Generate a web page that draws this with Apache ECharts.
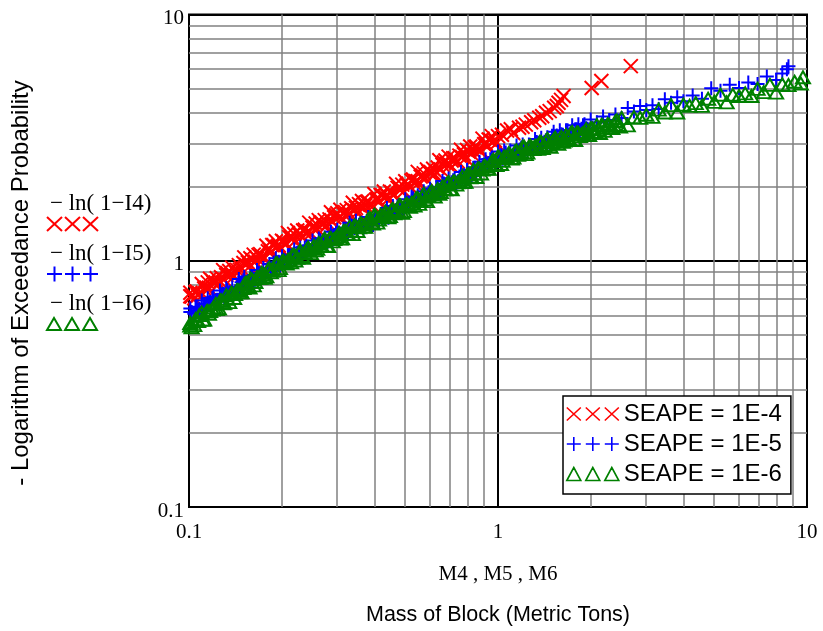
<!DOCTYPE html>
<html>
<head>
<meta charset="utf-8">
<script src="https://cdn.jsdelivr.net/npm/echarts@6/dist/echarts.min.js"></script>
<style>
  html, body { margin: 0; padding: 0; background: #ffffff; }
  #chart { width: 823px; height: 631px; }
</style>
</head>
<body>
<div id="chart"></div>
<script>
// Block mass (metric tons) and -ln(1 - I) for the three SEAPE levels
const massM4 = [
  0.101, 0.102, 0.105, 0.107, 0.110, 0.112, 0.115, 0.117, 0.120, 0.123,
  0.126, 0.129, 0.132, 0.135, 0.138, 0.141, 0.145, 0.148, 0.151, 0.155,
  0.158, 0.162, 0.166, 0.170, 0.174, 0.178, 0.182, 0.186, 0.191, 0.195,
  0.200, 0.204, 0.209, 0.214, 0.219, 0.224, 0.229, 0.234, 0.240, 0.245,
  0.251, 0.257, 0.263, 0.269, 0.275, 0.282, 0.288, 0.295, 0.302, 0.309,
  0.316, 0.324, 0.331, 0.339, 0.347, 0.355, 0.363, 0.372, 0.380, 0.389,
  0.398, 0.407, 0.417, 0.427, 0.437, 0.447, 0.457, 0.468, 0.479, 0.490,
  0.501, 0.513, 0.525, 0.537, 0.550, 0.562, 0.575, 0.589, 0.603, 0.617,
  0.631, 0.646, 0.661, 0.676, 0.692, 0.708, 0.724, 0.741, 0.759, 0.776,
  0.794, 0.813, 0.832, 0.851, 0.871, 0.891, 0.912, 0.933, 0.955, 0.977, 1.000,
  0.101, 0.104, 0.106, 0.108, 0.111, 0.114, 0.116, 0.119, 0.122, 0.125,
  0.127, 0.130, 0.133, 0.137, 0.140, 0.143, 0.146, 0.150, 0.153, 0.157,
  0.160, 0.164, 0.168, 0.172, 0.176, 0.180, 0.184, 0.188, 0.193, 0.197,
  0.202, 0.207, 0.211, 0.216, 0.221, 0.227, 0.232, 0.237, 0.243, 0.248,
  0.254, 0.260, 0.266, 0.272, 0.279, 0.285, 0.292, 0.299, 0.306, 0.313,
  0.320, 0.327, 0.335, 0.343, 0.351, 0.359, 0.367, 0.376, 0.385, 0.394,
  0.403, 0.412, 0.422, 0.432, 0.442, 0.452, 0.462, 0.473, 0.484, 0.496,
  0.507, 0.519, 0.531, 0.543, 0.556, 0.569, 0.582, 0.596, 0.610, 0.624,
  0.638, 0.653, 0.668, 0.684, 0.700, 0.716, 0.733, 0.750, 0.767, 0.785,
  0.804, 0.822, 0.841, 0.861, 0.881, 0.902, 0.923, 0.944, 0.966, 0.989,
  1.03, 1.07, 1.10, 1.12, 1.17, 1.20, 1.23, 1.28, 1.31, 1.36, 1.39, 1.43, 1.47,
  1.52, 1.55, 1.57, 1.60, 1.63, 2.01, 2.16, 2.69];
const excM4 = [
  0.741, 0.715, 0.745, 0.723, 0.805, 0.771, 0.817, 0.845, 0.815, 0.849,
  0.824, 0.916, 0.875, 0.908, 0.938, 0.902, 0.960, 0.929, 1.032, 0.986,
  1.023, 1.059, 1.021, 1.064, 1.032, 1.151, 1.114, 1.158, 1.200, 1.156,
  1.205, 1.166, 1.297, 1.239, 1.285, 1.327, 1.276, 1.327, 1.285, 1.428,
  1.364, 1.416, 1.462, 1.406, 1.462, 1.416, 1.574, 1.503, 1.560, 1.610,
  1.548, 1.606, 1.553, 1.721, 1.640, 1.698, 1.749, 1.679, 1.742, 1.683,
  1.866, 1.782, 1.849, 1.910, 1.836, 1.910, 1.849, 2.056, 1.963, 2.037,
  2.103, 2.030, 2.118, 2.059, 2.296, 2.200, 2.264, 2.347, 2.264, 2.363,
  2.296, 2.561, 2.454, 2.554, 2.648, 2.554, 2.606, 2.532, 2.825, 2.707,
  2.818, 2.911, 2.799, 2.911, 2.818, 3.133, 2.992, 3.105, 3.206, 3.083, 3.206,
  0.717, 0.704, 0.751, 0.739, 0.730, 0.777, 0.777, 0.829, 0.816, 0.806,
  0.857, 0.839, 0.893, 0.877, 0.865, 0.918, 0.920, 0.979, 0.962, 0.948,
  1.008, 0.990, 1.056, 1.039, 1.027, 1.093, 1.085, 1.157, 1.139, 1.126,
  1.197, 1.172, 1.247, 1.225, 1.208, 1.282, 1.256, 1.337, 1.312, 1.294,
  1.374, 1.346, 1.432, 1.406, 1.387, 1.472, 1.442, 1.535, 1.507, 1.486,
  1.576, 1.540, 1.635, 1.602, 1.576, 1.669, 1.632, 1.732, 1.697, 1.669,
  1.770, 1.734, 1.845, 1.811, 1.786, 1.897, 1.858, 1.977, 1.941, 1.914,
  2.037, 2.000, 2.138, 2.104, 2.084, 2.218, 2.158, 2.301, 2.270, 2.244,
  2.393, 2.350, 2.512, 2.472, 2.449, 2.606, 2.506, 2.673, 2.636, 2.606,
  2.773, 2.716, 2.891, 2.838, 2.799, 2.972, 2.911, 3.097, 3.041, 2.999,
  3.25, 3.38, 3.42, 3.30, 3.47, 3.50, 3.57, 3.65, 3.72, 3.81, 3.86, 3.99, 4.05,
  4.18, 4.25, 4.38, 4.50, 4.67, 5.03, 5.37, 6.17];

const massM5 = [
  0.101, 0.102, 0.105, 0.107, 0.110, 0.112, 0.115, 0.117, 0.120, 0.123,
  0.126, 0.129, 0.132, 0.135, 0.138, 0.141, 0.145, 0.148, 0.151, 0.155,
  0.158, 0.162, 0.166, 0.170, 0.174, 0.178, 0.182, 0.186, 0.191, 0.195,
  0.200, 0.204, 0.209, 0.214, 0.219, 0.224, 0.229, 0.234, 0.240, 0.245,
  0.251, 0.257, 0.263, 0.269, 0.275, 0.282, 0.288, 0.295, 0.302, 0.309,
  0.316, 0.324, 0.331, 0.339, 0.347, 0.355, 0.363, 0.372, 0.380, 0.389,
  0.398, 0.407, 0.417, 0.427, 0.437, 0.447, 0.457, 0.468, 0.479, 0.490,
  0.501, 0.513, 0.525, 0.537, 0.550, 0.562, 0.575, 0.589, 0.603, 0.617,
  0.631, 0.646, 0.661, 0.676, 0.692, 0.708, 0.724, 0.741, 0.759, 0.776,
  0.794, 0.813, 0.832, 0.851, 0.871, 0.891, 0.912, 0.933, 0.955, 0.977, 1.000,
  1.023, 1.047, 1.072, 1.096, 1.122, 1.148, 1.175, 1.202, 1.230, 1.259,
  1.288, 1.318, 1.349, 1.380, 1.413, 1.445, 1.479, 1.514, 1.549, 1.585,
  1.622, 1.660, 1.698, 1.738, 1.778, 1.820, 1.862, 1.905, 1.950, 1.995,
  0.101, 0.104, 0.106, 0.108, 0.111, 0.114, 0.116, 0.119, 0.122, 0.125,
  0.127, 0.130, 0.133, 0.137, 0.140, 0.143, 0.146, 0.150, 0.153, 0.157,
  0.160, 0.164, 0.168, 0.172, 0.176, 0.180, 0.184, 0.188, 0.193, 0.197,
  0.202, 0.207, 0.211, 0.216, 0.221, 0.227, 0.232, 0.237, 0.243, 0.248,
  0.254, 0.260, 0.266, 0.272, 0.279, 0.285, 0.292, 0.299, 0.306, 0.313,
  0.320, 0.327, 0.335, 0.343, 0.351, 0.359, 0.367, 0.376, 0.385, 0.394,
  0.403, 0.412, 0.422, 0.432, 0.442, 0.452, 0.462, 0.473, 0.484, 0.496,
  0.507, 0.519, 0.531, 0.543, 0.556, 0.569, 0.582, 0.596, 0.610, 0.624,
  0.638, 0.653, 0.668, 0.684, 0.700, 0.716, 0.733, 0.750, 0.767, 0.785,
  0.804, 0.822, 0.841, 0.861, 0.881, 0.902, 0.923, 0.944, 0.966, 0.989,
  1.012, 1.035, 1.059, 1.084, 1.109, 1.135, 1.161, 1.189, 1.216, 1.245,
  1.274, 1.303, 1.334, 1.365, 1.396, 1.429, 1.462, 1.496, 1.531, 1.567,
  1.603, 1.641, 1.679, 1.718, 1.758, 1.799, 1.841, 1.884, 1.928, 1.972,
  2.089, 2.188, 2.291, 2.399, 2.512, 2.630, 2.754, 2.884, 3.020, 3.162,
  3.311, 3.467, 3.631, 3.802, 3.981, 4.266, 4.571, 4.898, 5.248, 5.623,
  6.026, 6.457, 6.918, 7.413, 7.943, 8.318, 8.610, 8.710];
const excM5 = [
  0.640, 0.619, 0.649, 0.627, 0.689, 0.668, 0.705, 0.680, 0.715, 0.691,
  0.758, 0.734, 0.773, 0.745, 0.780, 0.751, 0.844, 0.817, 0.859, 0.828,
  0.868, 0.836, 0.917, 0.887, 0.934, 0.900, 0.969, 0.934, 1.023, 0.991,
  1.042, 1.005, 1.052, 1.015, 1.112, 1.077, 1.133, 1.092, 1.144, 1.102,
  1.208, 1.169, 1.230, 1.187, 1.242, 1.197, 1.312, 1.271, 1.337, 1.289,
  1.350, 1.301, 1.427, 1.381, 1.452, 1.400, 1.426, 1.374, 1.507, 1.459,
  1.535, 1.480, 1.550, 1.494, 1.638, 1.586, 1.668, 1.608, 1.684, 1.622,
  1.779, 1.726, 1.821, 1.758, 1.846, 1.783, 1.914, 1.858, 1.959, 1.892,
  1.986, 1.918, 2.109, 2.046, 2.158, 2.085, 2.158, 2.084, 2.291, 2.223,
  2.344, 2.265, 2.377, 2.296, 2.523, 2.449, 2.582, 2.495, 2.618, 2.529, 2.780,
  2.679, 2.805, 2.692, 2.805, 2.692, 2.938, 2.831, 2.965, 2.844, 2.965,
  2.851, 3.119, 3.013, 3.162, 3.041, 3.177, 3.055, 3.342, 3.228, 3.388,
  3.251, 3.388, 3.251, 3.548, 3.420, 3.581, 3.436, 3.581, 3.436, 3.750,
  0.619, 0.609, 0.651, 0.637, 0.630, 0.671, 0.660, 0.706, 0.691, 0.683,
  0.726, 0.713, 0.760, 0.743, 0.733, 0.778, 0.782, 0.834, 0.815, 0.804,
  0.853, 0.838, 0.893, 0.873, 0.861, 0.914, 0.923, 0.984, 0.962, 0.948,
  1.007, 0.989, 1.054, 1.030, 1.016, 1.079, 1.059, 1.130, 1.104, 1.089,
  1.156, 1.135, 1.211, 1.183, 1.167, 1.239, 1.216, 1.297, 1.268, 1.250,
  1.327, 1.303, 1.390, 1.358, 1.340, 1.422, 1.358, 1.449, 1.416, 1.396,
  1.483, 1.455, 1.552, 1.517, 1.496, 1.589, 1.560, 1.663, 1.626, 1.603,
  1.704, 1.677, 1.793, 1.756, 1.736, 1.848, 1.776, 1.899, 1.860, 1.839,
  1.957, 1.925, 2.059, 2.016, 1.993, 2.121, 2.059, 2.200, 2.156, 2.131,
  2.268, 2.232, 2.386, 2.337, 2.310, 2.458, 2.418, 2.585, 2.533, 2.503,
  2.655, 2.594, 2.754, 2.679, 2.630, 2.780, 2.716, 2.884, 2.805, 2.754,
  2.914, 2.855, 3.038, 2.962, 2.914, 3.087, 3.024, 3.217, 3.137, 3.087,
  3.266, 3.192, 3.388, 3.296, 3.236, 3.420, 3.342, 3.548, 3.451, 3.388,
  3.648, 3.855, 3.733, 3.926, 3.802, 4.169, 4.036, 4.246, 4.093, 4.285,
  4.130, 4.529, 4.385, 4.613, 4.446, 4.688, 4.550, 5.023, 4.898, 5.188,
  5.035, 5.297, 5.224, 5.598, 5.420, 5.754, 5.998, 6.166];

const massM6 = [
  0.101, 0.102, 0.105, 0.107, 0.110, 0.112, 0.115, 0.117, 0.120, 0.123,
  0.126, 0.129, 0.132, 0.135, 0.138, 0.141, 0.145, 0.148, 0.151, 0.155,
  0.158, 0.162, 0.166, 0.170, 0.174, 0.178, 0.182, 0.186, 0.191, 0.195,
  0.200, 0.204, 0.209, 0.214, 0.219, 0.224, 0.229, 0.234, 0.240, 0.245,
  0.251, 0.257, 0.263, 0.269, 0.275, 0.282, 0.288, 0.295, 0.302, 0.309,
  0.316, 0.324, 0.331, 0.339, 0.347, 0.355, 0.363, 0.372, 0.380, 0.389,
  0.398, 0.407, 0.417, 0.427, 0.437, 0.447, 0.457, 0.468, 0.479, 0.490,
  0.501, 0.513, 0.525, 0.537, 0.550, 0.562, 0.575, 0.589, 0.603, 0.617,
  0.631, 0.646, 0.661, 0.676, 0.692, 0.708, 0.724, 0.741, 0.759, 0.776,
  0.794, 0.813, 0.832, 0.851, 0.871, 0.891, 0.912, 0.933, 0.955, 0.977, 1.000,
  1.023, 1.047, 1.072, 1.096, 1.122, 1.148, 1.175, 1.202, 1.230, 1.259,
  1.288, 1.318, 1.349, 1.380, 1.413, 1.445, 1.479, 1.514, 1.549, 1.585,
  1.622, 1.660, 1.698, 1.738, 1.778, 1.820, 1.862, 1.905, 1.950, 1.995,
  2.042, 2.089, 2.138, 2.188, 2.239, 2.291, 2.344, 2.399, 2.455, 2.512,
  0.101, 0.104, 0.106, 0.108, 0.111, 0.114, 0.116, 0.119, 0.122, 0.125,
  0.127, 0.130, 0.133, 0.137, 0.140, 0.143, 0.146, 0.150, 0.153, 0.157,
  0.160, 0.164, 0.168, 0.172, 0.176, 0.180, 0.184, 0.188, 0.193, 0.197,
  0.202, 0.207, 0.211, 0.216, 0.221, 0.227, 0.232, 0.237, 0.243, 0.248,
  0.254, 0.260, 0.266, 0.272, 0.279, 0.285, 0.292, 0.299, 0.306, 0.313,
  0.320, 0.327, 0.335, 0.343, 0.351, 0.359, 0.367, 0.376, 0.385, 0.394,
  0.403, 0.412, 0.422, 0.432, 0.442, 0.452, 0.462, 0.473, 0.484, 0.496,
  0.507, 0.519, 0.531, 0.543, 0.556, 0.569, 0.582, 0.596, 0.610, 0.624,
  0.638, 0.653, 0.668, 0.684, 0.700, 0.716, 0.733, 0.750, 0.767, 0.785,
  0.804, 0.822, 0.841, 0.861, 0.881, 0.902, 0.923, 0.944, 0.966, 0.989,
  1.012, 1.035, 1.059, 1.084, 1.109, 1.135, 1.161, 1.189, 1.216, 1.245,
  1.274, 1.303, 1.334, 1.365, 1.396, 1.429, 1.462, 1.496, 1.531, 1.567,
  1.603, 1.641, 1.679, 1.718, 1.758, 1.799, 1.841, 1.884, 1.928, 1.972,
  2.018, 2.065, 2.113, 2.163, 2.213, 2.265, 2.317, 2.371, 2.427, 2.483,
  2.630, 2.754, 2.884, 3.020, 3.162, 3.311, 3.467, 3.631, 3.802, 3.981,
  4.169, 4.365, 4.571, 4.786, 5.012, 5.248, 5.495, 5.754, 6.026, 6.310,
  6.607, 6.918, 7.244, 7.586, 7.943, 8.318, 8.710, 9.120, 9.550, 9.705];
const excM6 = [
  0.546, 0.537, 0.579, 0.569, 0.614, 0.577, 0.625, 0.624, 0.647, 0.637,
  0.687, 0.671, 0.724, 0.679, 0.736, 0.733, 0.759, 0.745, 0.804, 0.785,
  0.847, 0.794, 0.859, 0.853, 0.881, 0.865, 0.931, 0.910, 0.977, 0.916,
  0.991, 0.982, 1.009, 0.986, 1.057, 1.028, 1.102, 1.028, 1.107, 1.096,
  1.127, 1.102, 1.180, 1.148, 1.230, 1.148, 1.236, 1.225, 1.259, 1.230,
  1.318, 1.282, 1.374, 1.282, 1.380, 1.368, 1.406, 1.374, 1.472, 1.432,
  1.535, 1.429, 1.535, 1.517, 1.556, 1.517, 1.622, 1.574, 1.683, 1.567,
  1.683, 1.667, 1.714, 1.675, 1.795, 1.746, 1.871, 1.746, 1.879, 1.862,
  1.914, 1.871, 2.004, 1.950, 2.089, 1.950, 2.099, 2.080, 2.138, 2.089,
  2.239, 2.183, 2.339, 2.188, 2.360, 2.344, 2.415, 2.360, 2.535, 2.472, 2.655,
  2.472, 2.655, 2.624, 2.692, 2.624, 2.805, 2.723, 2.911, 2.710, 2.911,
  2.868, 2.931, 2.848, 3.034, 2.935, 3.126, 2.901, 3.105, 3.059, 3.126,
  3.038, 3.236, 3.130, 3.334, 3.094, 3.311, 3.263, 3.334, 3.240, 3.451,
  3.338, 3.556, 3.301, 3.532, 3.479, 3.556, 3.455, 3.681, 3.560, 3.793,
  0.559, 0.548, 0.570, 0.602, 0.576, 0.622, 0.609, 0.634, 0.669, 0.640,
  0.690, 0.675, 0.701, 0.739, 0.706, 0.761, 0.745, 0.774, 0.815, 0.779,
  0.839, 0.820, 0.850, 0.893, 0.853, 0.918, 0.897, 0.930, 0.977, 0.933,
  1.002, 0.975, 1.007, 1.054, 1.002, 1.074, 1.045, 1.079, 1.130, 1.074,
  1.151, 1.119, 1.156, 1.211, 1.151, 1.233, 1.199, 1.239, 1.297, 1.233,
  1.321, 1.285, 1.327, 1.390, 1.321, 1.416, 1.377, 1.422, 1.489, 1.416,
  1.515, 1.471, 1.515, 1.583, 1.501, 1.605, 1.557, 1.605, 1.677, 1.590,
  1.702, 1.656, 1.710, 1.791, 1.702, 1.824, 1.774, 1.832, 1.919, 1.824,
  1.954, 1.901, 1.963, 2.056, 1.954, 2.094, 2.037, 2.104, 2.203, 2.094,
  2.247, 2.188, 2.262, 2.375, 2.262, 2.430, 2.366, 2.447, 2.568, 2.447,
  2.621, 2.544, 2.621, 2.738, 2.597, 2.776, 2.695, 2.776, 2.901, 2.751,
  2.936, 2.840, 2.915, 3.035, 2.870, 3.057, 2.957, 3.035, 3.161, 2.987,
  3.183, 3.077, 3.161, 3.290, 3.110, 3.314, 3.205, 3.290, 3.426, 3.238,
  3.450, 3.336, 3.426, 3.566, 3.371, 3.591, 3.474, 3.566, 3.713, 3.510,
  3.548, 3.828, 3.802, 3.917, 3.837, 4.111, 4.000, 4.285, 4.000, 4.305,
  4.256, 4.365, 4.256, 4.550, 4.416, 4.721, 4.395, 4.721, 4.667, 4.786,
  4.667, 4.989, 4.842, 5.176, 4.819, 5.200, 5.164, 5.333, 5.248, 5.559];

const seriesNames = ['SEAPE = 1E-4', 'SEAPE = 1E-5', 'SEAPE = 1E-6'];
const leftLabels = ['\u2212 ln( 1\u2212I4)', '\u2212 ln( 1\u2212I5)', '\u2212 ln( 1\u2212I6)'];
const axisTitleX = 'M4 , M5 , M6';
const axisTitleBottom = 'Mass of Block (Metric Tons)';
const axisTitleY = '- Logarithm of Exceedance Probability';
// Intermediate log-decade grid values (2..9 per decade)
const minorGridValues = [0.2, 0.3, 0.4, 0.5, 0.6, 0.7, 0.8, 0.9, 2, 3, 4, 5, 6, 7, 8, 9];

const RED = '#ff0000', BLUE = '#0000ff', GREEN = '#008000';
const SYM_X = 'path://M0,0L14,14M14,0L0,14';
const SYM_PLUS = 'path://M7,0L7,14M0,7L14,7';
const SYM_TRI = 'path://M0,12L7,0L14,12Z';
const ICON_X3 = 'path://M0,0L14,13M14,0L0,13M19,0L33,13M33,0L19,13M38,0L52,13M52,0L38,13';
const ICON_PLUS3 = 'path://M7,0L7,14M0,7L14,7M26,0L26,14M19,7L33,7M45,0L45,14M38,7L52,7';
const ICON_TRI3 = 'path://M0,13L7,0L14,13ZM19,13L26,0L33,13ZM38,13L45,0L52,13Z';

function pairs(xs, ys) { return xs.map((x, i) => [x, ys[i]]); }

function markerStyle(color, width) {
  return { color: 'rgba(0,0,0,0)', borderColor: color, borderWidth: width, opacity: 1 };
}

const chart = echarts.init(document.getElementById('chart'), null, { renderer: 'canvas' });

const serifFont = '"Liberation Serif", "Times New Roman", serif';
const sansFont = '"Liberation Sans", Arial, sans-serif';

// Left-hand key: label text above three sample markers
const keyTextY = [204, 254, 304];
const keyMarkY = [224, 274, 324];
const keyMarkX = [47, 65, 83];
const leftKey = [];
leftLabels.forEach((t, i) => {
  leftKey.push({
    type: 'text', x: 50, y: keyTextY[i],
    style: { text: t, font: '23px ' + serifFont, fill: '#000', verticalAlign: 'middle', align: 'left' }
  });
  keyMarkX.forEach(x0 => {
    const cy = keyMarkY[i];
    if (i === 0) {
      leftKey.push({ type: 'line', shape: { x1: x0, y1: cy - 7, x2: x0 + 15, y2: cy + 7 }, style: { stroke: RED, lineWidth: 2 } });
      leftKey.push({ type: 'line', shape: { x1: x0 + 15, y1: cy - 7, x2: x0, y2: cy + 7 }, style: { stroke: RED, lineWidth: 2 } });
    } else if (i === 1) {
      leftKey.push({ type: 'line', shape: { x1: x0 + 7.5, y1: cy - 7.5, x2: x0 + 7.5, y2: cy + 7.5 }, style: { stroke: BLUE, lineWidth: 2 } });
      leftKey.push({ type: 'line', shape: { x1: x0, y1: cy, x2: x0 + 15, y2: cy }, style: { stroke: BLUE, lineWidth: 2 } });
    } else {
      leftKey.push({ type: 'polygon', shape: { points: [[x0, cy + 6], [x0 + 7, cy - 6], [x0 + 14, cy + 6]] }, style: { fill: 'none', stroke: GREEN, lineWidth: 2 } });
    }
  });
});

const option = {
  animation: false,
  backgroundColor: '#ffffff',
  grid: { left: 189, right: 16, top: 12, bottom: 124, show: true, borderColor: '#000', borderWidth: 2, backgroundColor: 'rgba(0,0,0,0)' },
  xAxis: {
    type: 'log', logBase: 10, min: 0.1, max: 10,
    axisLine: { show: false }, axisTick: { show: false },
    splitLine: { show: true, lineStyle: { color: '#000', width: 2 } },
    axisLabel: { color: '#000', fontFamily: serifFont, fontSize: 21, margin: 15, showMinLabel: true, showMaxLabel: true },
    name: axisTitleX, nameLocation: 'middle', nameGap: 57,
    nameTextStyle: { color: '#000', fontFamily: serifFont, fontSize: 21 }
  },
  yAxis: {
    type: 'log', logBase: 10, min: 0.1, max: 10,
    axisLine: { show: false }, axisTick: { show: false },
    splitLine: { show: true, lineStyle: { color: '#000', width: 2 } },
    axisLabel: {
      margin: 5, showMinLabel: true, showMaxLabel: true,
      formatter: v => '{t|' + v + '}',
      rich: { t: { color: '#000', fontFamily: serifFont, fontSize: 21, lineHeight: 21, padding: [8, 0, 0, 0] } }
    }
  },
  legend: {
    orient: 'vertical', left: 563, top: 396,
    padding: [6, 9, 8, 3], itemGap: 6, itemWidth: 52, itemHeight: 14,
    backgroundColor: '#ffffff', borderColor: '#000', borderWidth: 1.5,
    selectedMode: false,
    textStyle: { color: '#000', fontFamily: sansFont, fontSize: 24 },
    data: [
      { name: seriesNames[0], icon: ICON_X3, itemStyle: markerStyle(RED, 1.6) },
      { name: seriesNames[1], icon: ICON_PLUS3, itemStyle: markerStyle(BLUE, 1.6) },
      { name: seriesNames[2], icon: ICON_TRI3, itemStyle: markerStyle(GREEN, 1.6) }
    ]
  },
  graphic: [
    {
      type: 'text', x: 21, y: 283, rotation: Math.PI / 2,
      style: { text: axisTitleY, font: '24px ' + sansFont, fill: '#000', align: 'center', verticalAlign: 'middle' }
    },
    {
      type: 'text', x: 498, y: 615,
      style: { text: axisTitleBottom, font: '21.5px ' + sansFont, fill: '#000', align: 'center', verticalAlign: 'middle' }
    },
    ...leftKey
  ],
  series: [
    {
      type: 'line', data: [], silent: true, z: 1,
      markLine: {
        silent: true, z: 1, animation: false, symbol: ['none', 'none'],
        label: { show: false }, emphasis: { disabled: true },
        lineStyle: { color: '#808080', width: 1.5, type: 'solid' },
        data: minorGridValues.map(v => ({ xAxis: v })).concat(minorGridValues.map(v => ({ yAxis: v })))
      }
    },
    {
      name: seriesNames[0], type: 'scatter', z: 2,
      data: pairs(massM4, excM4),
      symbol: SYM_X, symbolSize: 14,
      itemStyle: markerStyle(RED, 2), emphasis: { disabled: true }
    },
    {
      name: seriesNames[1], type: 'scatter', z: 2,
      data: pairs(massM5, excM5),
      symbol: SYM_PLUS, symbolSize: 14,
      itemStyle: markerStyle(BLUE, 2), emphasis: { disabled: true }
    },
    {
      name: seriesNames[2], type: 'scatter', z: 2,
      data: pairs(massM6, excM6),
      symbol: SYM_TRI, symbolSize: [14, 12],
      itemStyle: markerStyle(GREEN, 2), emphasis: { disabled: true }
    }
  ]
};

chart.setOption(option);
</script>
</body>
</html>
